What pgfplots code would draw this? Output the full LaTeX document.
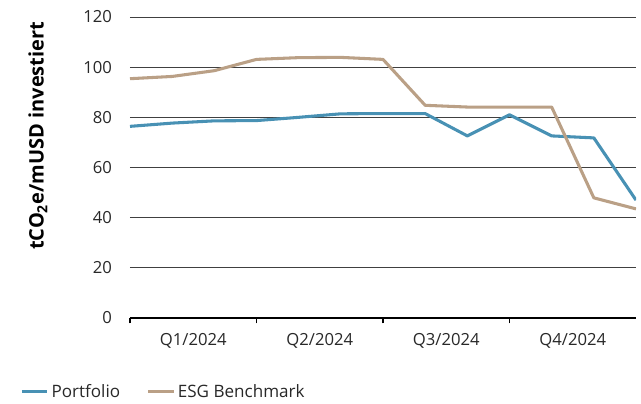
\documentclass[border=0pt]{standalone}
\usepackage{fontspec}
\setmainfont{Open Sans}
\usepackage{pgfplots}
\pgfplotsset{compat=1.18}
\definecolor{portCol}{RGB}{72,145,180}
\definecolor{esgCol}{RGB}{186,160,134}
\definecolor{txtCol}{RGB}{40,40,40}
\begin{document}
\begin{tikzpicture}
  \begin{axis}[
    at={(0,0)}, anchor=south west,
    scale only axis, width=379.5pt, height=225.75pt,
    xmin=0, xmax=12, ymin=0, ymax=120,
    ytick={0,20,...,120},
    xtick={0,3,6,9}, xticklabels={},
    extra x ticks={1.5,4.5,7.5,10.5},
    extra x tick labels={Q1/2024,Q2/2024,Q3/2024,Q4/2024},
    extra x tick style={major tick length=0pt, xticklabel style={yshift=-8pt}},
    axis y line*=left, axis x line*=bottom,
    y axis line style={draw=none},
    ytick style={draw=none},
    x axis line style={line width=1.5pt, -},
    xtick pos=bottom, tick align=outside,
    major tick length=4pt,
    x tick style={line width=1.3pt, black},
    ymajorgrids, grid style={black!75, line width=0.6pt},
    /pgf/number format/assume math mode=true,
    tick label style={font=\fontsize{12.5}{14}\selectfont, text=txtCol},
    yticklabel style={xshift=-6pt},
    ylabel={tCO\textsubscript{2}e/mUSD investiert},
    every axis y label/.style={at={(-0.182,0.605)}, rotate=90, anchor=center,
      font=\fontsize{15}{17}\selectfont\bfseries, text=black},
    legend columns=2,
    legend style={at={(-0.217,-0.245)}, anchor=west, draw=none, fill=none,
      inner sep=0pt, font=\fontsize{12.8}{14}\selectfont, text=txtCol,
      /tikz/every even column/.append style={column sep=18pt}},
    legend image code/.code={\draw[#1] (0pt,0pt) -- (19pt,0pt);},
  ]
    \addplot[portCol, line width=2.3pt, line join=round] coordinates {
      (0,76.4)(1,77.7)(2,78.6)(3,78.7)(4,80.0)(5,81.4)(6,81.5)
      (7,81.5)(8,72.6)(9,81.0)(10,72.6)(11,71.8)(12,47.0)};
    \addlegendentry{Portfolio}
    \addplot[esgCol, line width=2.3pt, line join=round] coordinates {
      (0,95.4)(1,96.3)(2,98.6)(3,103.1)(4,103.8)(5,103.9)(6,103.1)
      (7,84.8)(8,84.1)(9,84.1)(10,84.1)(11,47.9)(12,43.5)};
    \addlegendentry{ESG Benchmark}
  \end{axis}
  \path[use as bounding box] (-97.5pt,-63.75pt) rectangle (383.25pt,238.5pt);
\end{tikzpicture}
\end{document}
